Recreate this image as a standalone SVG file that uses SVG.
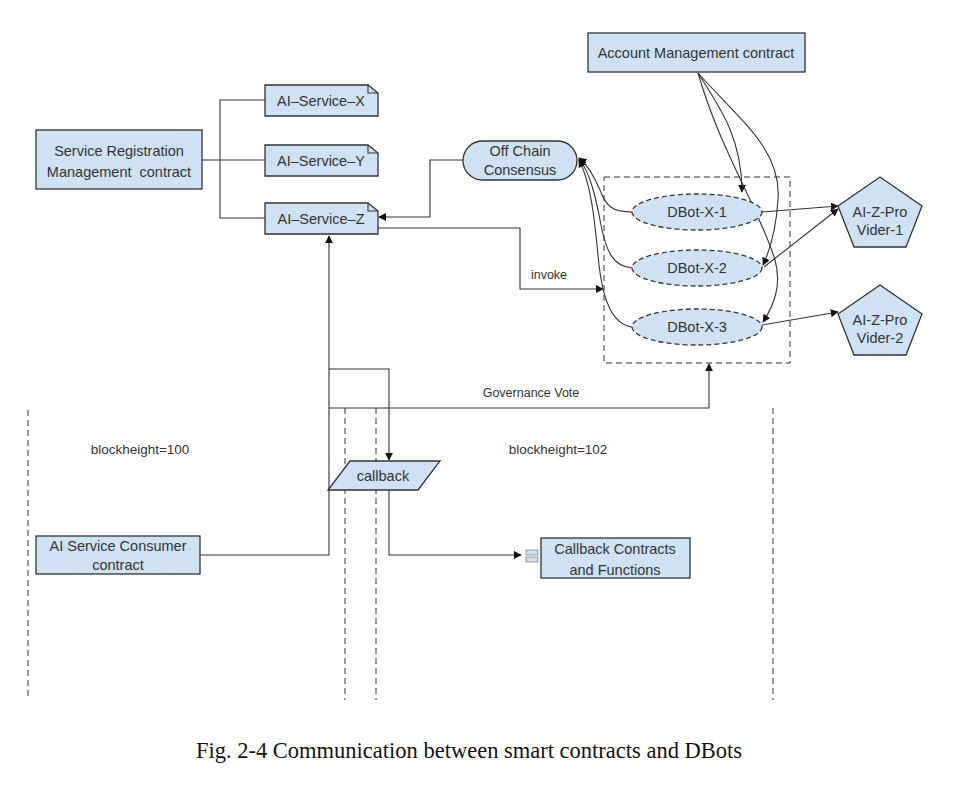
<svg xmlns="http://www.w3.org/2000/svg" width="975" height="793" viewBox="0 0 975 793">
<defs>
<marker id="arr" viewBox="0 0 10 10" refX="9" refY="5" markerWidth="8" markerHeight="8" markerUnits="userSpaceOnUse" orient="auto">
<path d="M0,0 L10,5 L0,10 z" fill="#111"/>
</marker>
<style>
.n{fill:#cfe2f3;stroke:#333;stroke-width:1.3}
.t{font-family:"Liberation Sans",Arial,sans-serif;font-size:14.5px;fill:#333;text-anchor:middle}
.s{font-family:"Liberation Sans",Arial,sans-serif;font-size:12.5px;fill:#333;text-anchor:middle}
.b{font-family:"Liberation Sans",Arial,sans-serif;font-size:13.5px;fill:#333;text-anchor:middle}
.c{fill:none;stroke:#333;stroke-width:1.1}
.ca{fill:none;stroke:#333;stroke-width:1.1;marker-end:url(#arr)}
.d{fill:none;stroke:#333;stroke-width:1;stroke-dasharray:6 4}
</style>
</defs>
<rect width="975" height="793" fill="#fff"/>

<g id="lanes">
<line class="d" x1="28" y1="410" x2="28" y2="700"/>
<line class="d" x1="345" y1="408" x2="345" y2="700"/>
<line class="d" x1="376" y1="408" x2="376" y2="700"/>
<line class="d" x1="773" y1="408" x2="773" y2="700"/>
<text class="b" x="140" y="454">blockheight=100</text>
<text class="b" x="558" y="454">blockheight=102</text>
</g>

<g id="dbot-group">
<rect class="d" x="604" y="177" width="186" height="186"/>
</g>

<g id="connectors">
<polyline class="c" points="265,100 220,100 220,218 265,218"/>
<line class="c" x1="202" y1="160" x2="265" y2="160"/>
<polyline class="ca" points="463,160 430,160 430,217 379,217"/>
<polyline class="ca" points="378,228 520,228 520,289 603,289"/>
<text class="s" x="549" y="279">invoke</text>
<path class="ca" d="M632,212 C612,212 606,206 600,190 C594,176 588,165 579,158"/>
<path class="ca" d="M632,268 C612,266 606,250 601,225 C596,198 590,172 579,159"/>
<path class="ca" d="M632,327 C612,324 603,300 599,265 C595,225 592,185 579,160"/>
<path class="ca" d="M698,73 C722,110 742,140 742,192"/>
<path class="ca" d="M698,73 C740,120 782,150 778,200 C776,230 770,250 763,265"/>
<path class="ca" d="M698,73 C720,150 760,210 775,260 C782,285 774,305 763,322"/>
<line class="ca" x1="762" y1="212" x2="838" y2="206"/>
<line class="ca" x1="764" y1="267" x2="838" y2="209"/>
<line class="ca" x1="762" y1="325" x2="838" y2="312"/>
<polyline class="ca" points="200,555 329,555 329,236"/>
<polyline class="ca" points="329,369 389,369 389,460"/>
<polyline class="ca" points="329,408 709,408 709,364"/>
<text class="s" x="531" y="397">Governance Vote</text>
<polyline class="ca" points="389,490 389,555 521,555"/>
</g>

<g id="service-registration">
<rect class="n" x="36" y="130" width="166" height="59"/>
<text class="t" x="119" y="156">Service Registration</text>
<text class="t" x="119" y="177" xml:space="preserve">Management  contract</text>
</g>
<g id="ai-service-x">
<path class="n" d="M265,85 H368 L378,93 V116 H265 Z"/>
<path class="c" d="M368,85 V93 H378"/>
<text class="t" x="321" y="106">AI–Service–X</text>
</g>
<g id="ai-service-y">
<path class="n" d="M265,145 H368 L378,153 V176 H265 Z"/>
<path class="c" d="M368,145 V153 H378"/>
<text class="t" x="321" y="166">AI–Service–Y</text>
</g>
<g id="ai-service-z">
<path class="n" d="M265,203 H368 L378,211 V234 H265 Z"/>
<path class="c" d="M368,203 V211 H378"/>
<text class="t" x="321" y="224">AI–Service–Z</text>
</g>
<g id="off-chain-consensus">
<rect class="n" x="463" y="141" width="114" height="39" rx="19.5"/>
<text class="t" x="520" y="156">Off Chain</text>
<text class="t" x="520" y="175">Consensus</text>
</g>
<g id="account-management">
<rect class="n" x="588" y="33" width="217" height="39"/>
<text class="t" x="696" y="58">Account Management contract</text>
</g>
<g id="dbot-x-1">
<ellipse class="n" cx="697" cy="212" rx="65" ry="18" stroke-dasharray="5 3"/>
<text class="t" x="697" y="217">DBot-X-1</text>
</g>
<g id="dbot-x-2">
<ellipse class="n" cx="697" cy="268" rx="65" ry="18" stroke-dasharray="5 3"/>
<text class="t" x="697" y="273">DBot-X-2</text>
</g>
<g id="dbot-x-3">
<ellipse class="n" cx="697" cy="327" rx="65" ry="18" stroke-dasharray="5 3"/>
<text class="t" x="697" y="332">DBot-X-3</text>
</g>
<g id="ai-z-provider-1">
<polygon class="n" points="880,177 922,206 906,247 854,247 838,206"/>
<text class="t" x="880" y="217">AI-Z-Pro</text>
<text class="t" x="880" y="235">Vider-1</text>
</g>
<g id="ai-z-provider-2">
<polygon class="n" points="880,285 922,314 906,355 854,355 838,314"/>
<text class="t" x="880" y="325">AI-Z-Pro</text>
<text class="t" x="880" y="343">Vider-2</text>
</g>
<g id="callback">
<polygon class="n" points="350,461 440,461 418,490 328,490"/>
<text class="t" x="383" y="481">callback</text>
</g>
<g id="ai-service-consumer">
<rect class="n" x="36" y="536" width="164" height="38"/>
<text class="t" x="118" y="551">AI Service Consumer</text>
<text class="t" x="118" y="570">contract</text>
</g>
<g id="callback-contracts">
<rect x="526" y="550" width="12" height="5" fill="#cfe2f3" stroke="#888" stroke-width="0.8"/>
<rect x="526" y="557" width="12" height="5" fill="#cfe2f3" stroke="#888" stroke-width="0.8"/>
<rect class="n" x="541" y="538" width="149" height="40"/>
<text class="t" x="615" y="554">Callback Contracts</text>
<text class="t" x="615" y="575">and Functions</text>
</g>
<g id="caption">
<text x="469" y="758" font-family="Liberation Serif,Times New Roman,serif" font-size="22.5" fill="#111" text-anchor="middle">Fig. 2-4 Communication between smart contracts and DBots</text>
</g>
</svg>
